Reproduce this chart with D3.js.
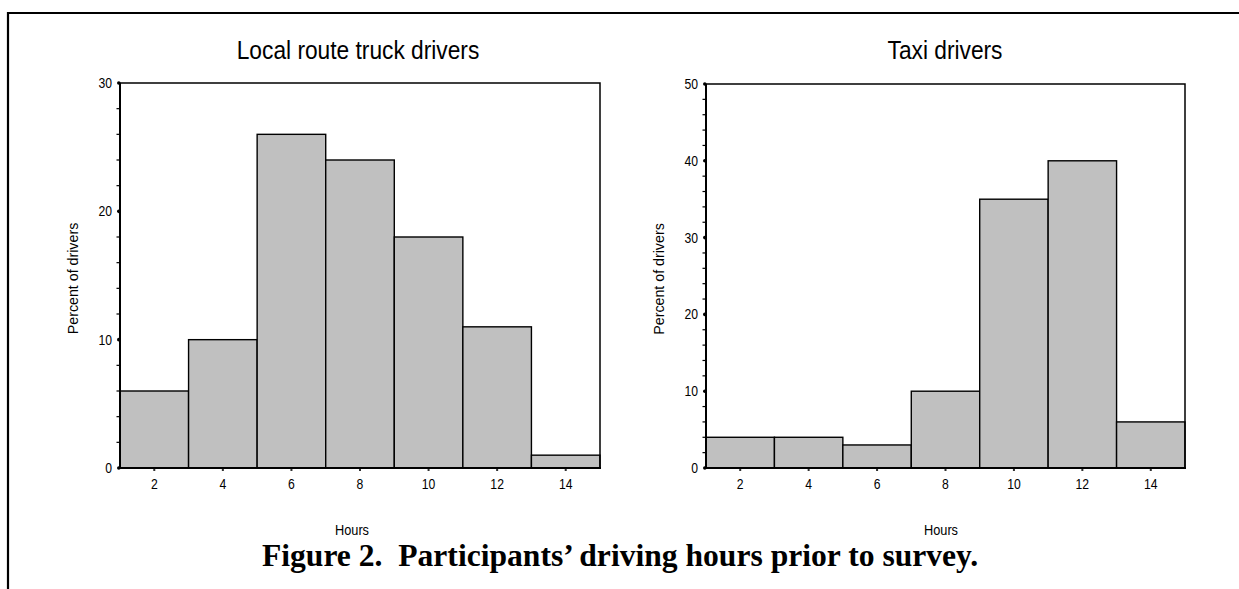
<!DOCTYPE html>
<html>
<head>
<meta charset="utf-8">
<script src="https://cdn.jsdelivr.net/npm/d3@7"></script>
<style>
  html, body { margin: 0; padding: 0; background: #fff; }
  svg { display: block; }
  .sans { font-family: "Liberation Sans", Arial, sans-serif; fill: #000; }
  .caption { font-family: "Liberation Serif", "Times New Roman", serif; font-weight: bold; fill: #000; white-space: pre; }
</style>
</head>
<body>
<script>
// ---- data ----
const binCenters = [2, 4, 6, 8, 10, 12, 14];
const truckPercent = [6, 10, 26, 24, 18, 11, 1];
const taxiPercent = [4, 4, 3, 10, 35, 40, 6];
const truckYTicks = [0, 10, 20, 30];
const taxiYTicks = [0, 10, 20, 30, 40, 50];
const xTickLabels = ["2", "4", "6", "8", "10", "12", "14"];
const chartTitles = ["Local route truck drivers", "Taxi drivers"];
const yAxisTitle = "Percent of drivers";
const xAxisTitle = "Hours";
const captionText = "Figure 2.  Participants\u2019 driving hours prior to survey.";

const W = 1239, H = 589;
const svg = d3.select("body").append("svg").attr("width", W).attr("height", H);

// narrow text helper (horizontal compression like Arial Narrow)
function ntext(parent, x, y, str, size, anchor, sx, rot) {
  return parent.append("text").attr("class", "sans")
    .attr("transform", `translate(${x},${y})${rot ? " rotate(" + rot + ")" : ""} scale(${sx},1)`)
    .attr("text-anchor", anchor).attr("font-size", size)
    .text(str);
}

// page frame
svg.append("line").attr("x1", 8).attr("x2", 8).attr("y1", 12).attr("y2", H)
  .attr("stroke", "#000").attr("stroke-width", 2.2);
svg.append("line").attr("x1", 7).attr("x2", W).attr("y1", 13).attr("y2", 13)
  .attr("stroke", "#000").attr("stroke-width", 2.2);

function histogram(cfg) {
  const x = d3.scaleLinear().domain([1, 15]).range([cfg.x0, cfg.x1]);
  const y = d3.scaleLinear().domain([0, cfg.yMax]).range([cfg.y1, cfg.y0]);
  const g = svg.append("g");

  // bars
  g.selectAll("rect.bar").data(cfg.values).enter().append("rect")
    .attr("class", "bar")
    .attr("x", (d, i) => x(binCenters[i] - 1))
    .attr("width", (d, i) => x(binCenters[i] + 1) - x(binCenters[i] - 1))
    .attr("y", d => y(d))
    .attr("height", d => y(0) - y(d))
    .attr("fill", "#c0c0c0")
    .attr("stroke", "#000")
    .attr("stroke-width", 1.4);

  // frame top & right
  g.append("path")
    .attr("d", `M${x(1)},${y(cfg.yMax)}H${x(15)}V${y(0)}`)
    .attr("fill", "none").attr("stroke", "#000").attr("stroke-width", 1.5);

  // y axis (minor ticks, major dots, labels)
  const minor = d3.range(0, cfg.yMax + 0.001, 2).filter(v => v % 10 !== 0);
  g.selectAll("line.ymin").data(minor).enter().append("line")
    .attr("x1", x(1) - 3.5).attr("x2", x(1))
    .attr("y1", d => y(d)).attr("y2", d => y(d))
    .attr("stroke", "#000").attr("stroke-width", 1.2);
  g.selectAll("circle.ymaj").data(cfg.yTicks).enter().append("circle")
    .attr("cx", x(1) - 1.2).attr("cy", d => y(d)).attr("r", 1.8).attr("fill", "#000");
  cfg.yTicks.forEach(v => ntext(g, x(1) - 8, y(v) + 5, v, 14, "end", 0.87));
  g.append("line").attr("x1", x(1)).attr("x2", x(1)).attr("y1", y(cfg.yMax)).attr("y2", y(0) + 1)
    .attr("stroke", "#000").attr("stroke-width", 2);

  // x axis
  g.append("line").attr("x1", x(1) - 1).attr("x2", x(15) + 1).attr("y1", y(0)).attr("y2", y(0))
    .attr("stroke", "#000").attr("stroke-width", 2.2);
  g.selectAll("rect.xt").data(binCenters).enter().append("rect")
    .attr("x", d => x(d) - 1).attr("y", y(0) + 1).attr("width", 2).attr("height", 2)
    .attr("fill", "#333");
  binCenters.forEach((d, i) => ntext(g, x(d), y(0) + 21, xTickLabels[i], 14, "middle", 0.87));

  // titles
  ntext(g, cfg.titleX, 59, cfg.title, 26, "middle", 0.875);
  ntext(g, cfg.yTitleX, (y(0) + y(cfg.yMax)) / 2 + 3, yAxisTitle, 15, "middle", 0.95, -90);
  ntext(g, cfg.xTitleX, 535, xAxisTitle, 15, "middle", 0.85);
}

histogram({ x0: 120, x1: 600, y0: 83, y1: 468, yMax: 30, values: truckPercent,
  yTicks: truckYTicks, title: chartTitles[0], titleX: 358, yTitleX: 78, xTitleX: 352 });
histogram({ x0: 706, x1: 1185, y0: 84, y1: 468, yMax: 50, values: taxiPercent,
  yTicks: taxiYTicks, title: chartTitles[1], titleX: 945, yTitleX: 664, xTitleX: 941 });

svg.append("text").attr("class", "caption")
  .attr("x", 620).attr("y", 566)
  .attr("text-anchor", "middle").attr("font-size", 31.6)
  .text(captionText);
</script>
</body>
</html>
